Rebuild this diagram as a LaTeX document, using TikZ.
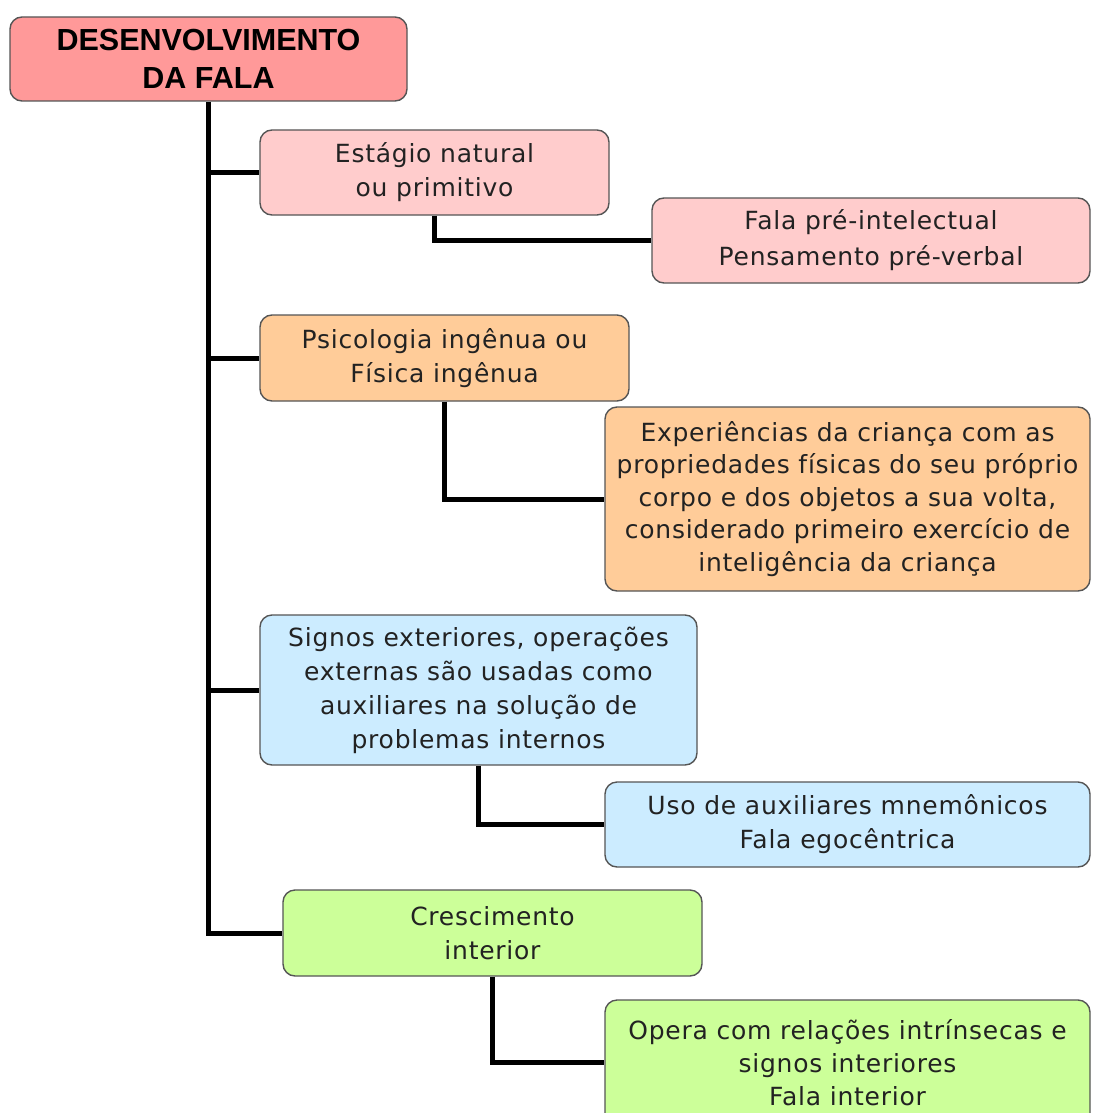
\documentclass[tikz,border=0pt]{standalone}
\usepackage{fontspec}
\setmainfont{DejaVu Sans}[LetterSpace=3]
\newfontfamily\rootfont{Liberation Sans}
\definecolor{rootfill}{HTML}{FF9999}
\definecolor{pinkfill}{HTML}{FFCCCC}
\definecolor{orangefill}{HTML}{FFCC99}
\definecolor{bluefill}{HTML}{CCECFF}
\definecolor{greenfill}{HTML}{CCFF99}
\definecolor{boxline}{HTML}{555555}
\definecolor{txt}{HTML}{222222}
\tikzset{
  box/.style={draw=boxline, line width=1.4pt, rounded corners=12pt, align=center,
    inner sep=0pt, text=txt, font=\fontsize{25}{34}\selectfont},
  rootbox/.style={box, fill=rootfill, text=black,
    font=\rootfont\bfseries\fontsize{30.5}{38}\selectfont},
  link/.style={line width=5pt, black}
}
\begin{document}
\begin{tikzpicture}[x=1pt,y=-1pt]
\useasboundingbox (0,0) rectangle (1092,1113);
\clip (0,0) rectangle (1092,1113);

% boxes of the outline
\node[rootbox, minimum width=397pt, minimum height=84pt] (root) at (208.5,59) {DESENVOLVIMENTO\\DA FALA};

\node[box, fill=pinkfill, minimum width=349pt, minimum height=85pt] (b1) at (434.5,172.5) {Estágio natural\\ou primitivo};
\node[box, fill=pinkfill, minimum width=438pt, minimum height=85pt, font=\fontsize{25}{36}\selectfont] (c1) at (871,240.5) {Fala pré-intelectual\\Pensamento pré-verbal};

\node[box, fill=orangefill, minimum width=369pt, minimum height=86pt] (b2) at (444.5,358) {Psicologia ingênua ou\\Física ingênua};
\node[box, fill=orangefill, minimum width=485pt, minimum height=184pt, font=\fontsize{25}{32.5}\selectfont] (c2) at (847.5,499) {Experiências da criança com as\\propriedades físicas do seu próprio\\corpo e dos objetos a sua volta,\\considerado primeiro exercício de\\inteligência da criança};

\node[box, fill=bluefill, minimum width=437pt, minimum height=150pt] (b3) at (478.5,690) {Signos exteriores, operações\\externas são usadas como\\auxiliares na solução de\\problemas internos};
\node[box, fill=bluefill, minimum width=485pt, minimum height=85pt] (c3) at (847.5,824.5) {Uso de auxiliares mnemônicos\\Fala egocêntrica};

\node[box, fill=greenfill, minimum width=419pt, minimum height=86pt] (b4) at (492.5,933) {Crescimento\\interior};
\node[box, fill=greenfill, minimum width=485pt, minimum height=125pt, font=\fontsize{25}{33}\selectfont] (c4) at (847.5,1062.5) {Opera com relações intrínsecas e\\signos interiores\\Fala interior};

% trunk with its branches
\draw[link] (root.south) |- (b4.west);
\foreach \b in {b1,b2,b3}
  \draw[link] (root.south |- \b.west) -- (\b.west);

% links to the second level
\foreach \b/\c in {b1/c1,b2/c2,b3/c3,b4/c4}
  \draw[link] (\b.south) |- (\c.west);
\end{tikzpicture}
\end{document}
